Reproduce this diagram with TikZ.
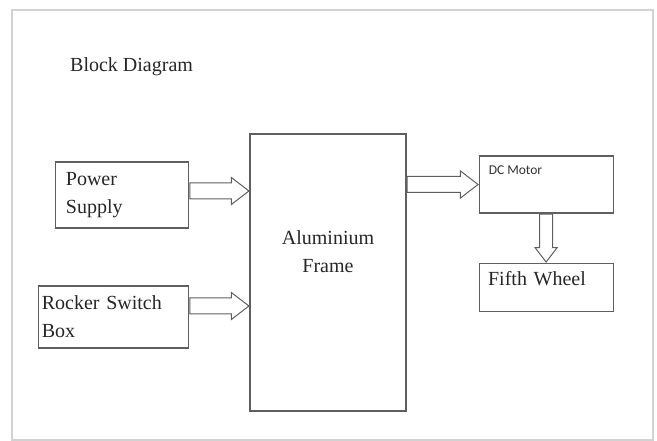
\documentclass[tikz,border=0pt]{standalone}
\usepackage{fontspec}
\setmainfont{Liberation Serif}
\newfontfamily\motorfont{Carlito}
\usetikzlibrary{positioning,shapes.arrows}
\definecolor{boxgray}{HTML}{5F5F5F}
\definecolor{pagegray}{HTML}{D2D2D2}
\tikzset{
  block/.style={draw=boxgray, line width=1.1pt, fill=white, inner sep=0pt,
    font=\fontsize{20}{28}\selectfont, text=black!85},
  fatarrow/.style={single arrow, draw=boxgray, line width=1pt, fill=white,
    inner sep=0pt, text height=7.5pt, text depth=7.5pt, single arrow head extend=5.5pt,
    single arrow tip angle=75, minimum height=#1, sloped, anchor=tail}
}
\begin{document}
\begin{tikzpicture}[x=1pt, y=-1pt]
    \useasboundingbox (0,0) rectangle (657,441);
    \draw[pagegray, line width=1.5pt] (12,10) rectangle (653,440);

    \node[anchor=west, inner sep=0pt, font=\fontsize{20}{24}\selectfont, text=black!85] (title) at (70,67) {Block Diagram};

    % main blocks
    \node[block, minimum width=156pt, minimum height=277pt,
      label={[align=center, font=\fontsize{20}{28}\selectfont, text=black!85, yshift=21pt]center:Aluminium\\Frame}] (frame) at (328,272.5) {};
    \node[block, anchor=north east, minimum width=133pt, minimum height=66pt,
      inner xsep=10pt, text width=113pt, align=left] (ps) at ([xshift=-60pt, yshift=-28pt]frame.north west) {Power\\Supply};
    \node[block, anchor=south east, minimum width=150pt, minimum height=62pt,
      inner xsep=3pt, text width=144pt, align=left] (rsb) at ([xshift=-60pt, yshift=63pt]frame.south west) {Rocker Switch\\Box};
    \node[block, anchor=north west, minimum width=134pt, minimum height=57pt,
      label={[anchor=north west, inner sep=0pt, xshift=10pt, yshift=-10pt, font=\motorfont\fontsize{13.5}{15}\selectfont, text=black!80]north west:DC Motor}] (motor) at ([xshift=72pt, yshift=-22pt]frame.north east) {};
    \node[block, below=49pt of motor, minimum width=134pt, minimum height=48pt,
      inner xsep=9pt, text width=116pt, align=left, text depth=17pt] (wheel) {Fifth Wheel};

    % arrows
    \path ([yshift=4pt]ps.east) -- ([yshift=4pt]ps.east -| frame.west) node[at start, fatarrow=59pt] {};
    \path ([yshift=11pt]rsb.east) -- ([yshift=11pt]rsb.east -| frame.west) node[at start, fatarrow=59pt] {};
    \path (frame.east |- motor.west) -- (motor.west) node[at start, fatarrow=71pt] {};
    \path (motor.south) -- (wheel.north) node[at start, fatarrow=48pt, text height=6pt, text depth=6pt, single arrow head extend=4.5pt] {};
\end{tikzpicture}
\end{document}
